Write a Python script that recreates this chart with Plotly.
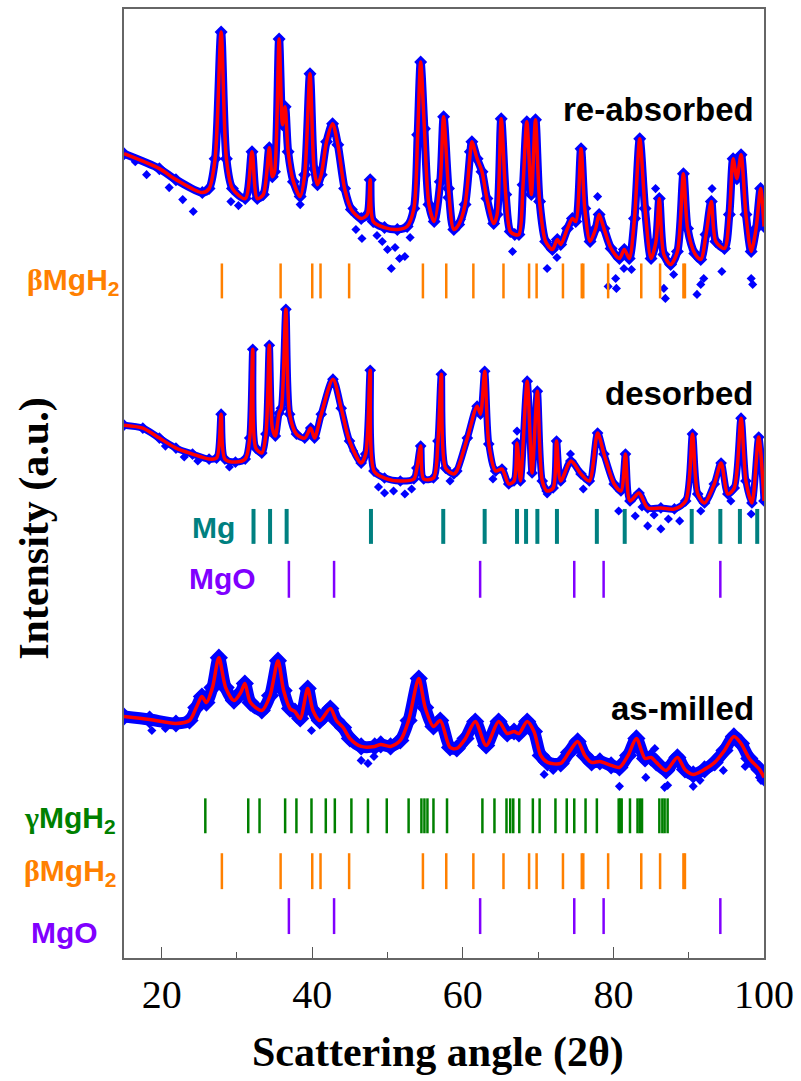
import plotly.graph_objects as go

# ---------------- data ----------------
# 2-theta positions and intensities (a.u.) of the fitted profile, plus vertical offsets
reabs_x = [15.0, 19.7, 21.9, 25.4, 26.3, 27.1, 27.9, 28.6, 29.4, 31.1, 32.0, 32.7, 33.5, 34.3, 34.7, 35.0,
           35.6, 36.05, 36.4, 36.8, 37.5, 38.4, 39.0, 39.7, 40.25, 40.7, 41.2, 41.9, 42.7, 43.4, 44.3, 45.2,
           46.5, 47.3, 47.7, 48.1, 49.6, 51.3, 52.6, 53.5, 54.0, 54.4, 54.9, 55.5, 56.2, 57.0, 57.45, 58.1,
           58.8, 59.45, 60.3, 61.0, 61.2, 61.9, 62.55, 63.2, 64.1, 64.55, 65.1, 65.7, 66.3, 66.9, 67.45,
           68.0, 68.5, 69.1, 69.65, 70.2, 71.0, 71.9, 72.55, 73.0, 73.9, 74.55, 75.0, 75.7, 76.2, 76.9,
           77.65, 78.1, 78.75, 79.7, 80.8, 81.45, 82.1, 82.8, 83.5, 84.2, 85.0, 85.65, 86.1, 86.7, 87.6,
           88.5, 89.3, 89.85, 90.8, 91.6, 92.3, 93.0, 93.6, 94.75, 95.4, 95.9, 96.4, 96.95, 97.6, 98.3,
           98.95, 99.55, 100.0]
reabs_y = [156, 141, 130, 117, 121, 151, 278, 151, 121, 111, 158, 111, 115, 162, 133, 138,
           271, 185, 203, 158, 128, 113, 135, 236, 141, 125, 135, 168, 186, 165, 121, 100,
           91, 95, 130, 88, 82, 80, 83, 101, 175, 248, 181, 105, 88, 128, 193, 121,
           80, 85, 105, 158, 168, 151, 138, 111, 86, 95, 191, 115, 78, 75, 75,
           125, 188, 115, 190, 108, 68, 60, 70, 65, 81, 91, 88, 161, 101, 68,
           81, 95, 81, 61, 51, 60, 51, 91, 171, 101, 51, 68, 111, 55, 45,
           58, 136, 81, 56, 50, 75, 108, 68, 61, 95, 151, 131, 155, 95, 58,
           81, 121, 83]
reabs_out_x = [16.5, 18.0, 21.0, 22.8, 24.2, 29.2, 30.2, 38.4, 45.8, 46.6, 48.6, 49.3, 50.0, 50.5, 51.0,
               51.6, 52.3, 53.0, 57.9, 59.8, 66.6, 71.2, 72.5, 77.9, 79.3, 80.3, 80.4, 81.4, 82.4,
               85.6, 86.7, 86.9, 88.0, 91.1, 91.6, 92.0, 93.1, 94.4, 98.3, 98.5]
reabs_out_y = [148, 135, 122, 110, 98, 108, 104, 105, 80, 71, 74, 68, 60, 41, 62,
               51, 53, 72, 112, 90, 58, 41, 52, 113, 23, 31, 21, 41, 40,
               121, 21, 11, 35, 15, 25, 31, 121, 38, 31, 25]
reabs_offset = 650

des_x = [15.0, 17.5, 19.7, 21.9, 24.1, 26.3, 27.3, 27.9, 28.4, 29.8, 31.1, 31.7, 32.1, 32.5, 33.3, 33.85,
         34.3, 34.7, 35.1, 35.6, 35.9, 36.5, 37.0, 37.9, 39.0, 39.8, 40.3, 41.2, 42.75, 43.85, 44.95,
         46.5, 47.1, 47.7, 48.2, 49.6, 51.7, 53.5, 53.9, 54.4, 54.8, 56.1, 56.7, 57.15, 57.7, 58.8,
         59.2, 60.6, 61.9, 62.35, 62.9, 63.45, 64.35, 65.2, 66.1, 66.8, 67.2, 67.65, 68.55, 69.2, 69.9,
         70.55, 71.2, 72.0, 72.45, 73.0, 74.35, 75.7, 76.8, 77.9, 78.75, 80.1, 81.0, 81.6, 82.2, 83.4,
         84.55, 86.3, 88.1, 89.6, 90.5, 91.2, 92.1, 93.4, 94.3, 95.2, 96.05, 96.95, 97.6, 98.4, 99.3,
         100.0]
des_y = [134, 131, 121, 111, 105, 100, 101, 145, 100, 97, 100, 121, 210, 111, 106, 125,
         214, 131, 123, 146, 151, 250, 145, 125, 121, 131, 121, 145, 180, 151, 118,
         96, 105, 189, 88, 81, 78, 80, 91, 113, 80, 81, 118, 185, 91, 85,
         88, 121, 153, 145, 188, 115, 88, 90, 75, 78, 116, 78, 178, 86, 168,
         78, 68, 71, 118, 78, 98, 85, 78, 126, 105, 75, 68, 105, 58, 66,
         51, 51, 50, 58, 125, 65, 56, 75, 96, 65, 71, 141, 78, 56, 122,
         58]
des_out_x = [20.5, 23.0, 24.8, 29.0, 45.5, 48.8, 49.6, 50.8, 52.3, 53.2, 58.3, 64.0, 67.2, 71.2, 74.3,
             76.0, 80.7, 82.9, 83.8, 84.55, 85.4, 86.3, 87.3, 88.8, 91.6, 95.6, 98.3]
des_out_y = [113, 102, 98, 92, 108, 72, 66, 68, 65, 70, 78, 80, 128, 65, 105,
             70, 48, 43, 52, 33, 44, 30, 40, 38, 48, 58, 45]
des_offset = 400

mill_x = [15.0, 18.4, 21.9, 23.7, 24.6, 25.35, 25.95, 26.75, 27.6, 28.5, 29.6, 30.5, 31.05, 31.8, 33.3,
          34.4, 35.45, 36.2, 37.05, 37.7, 38.4, 39.4, 40.1, 41.0, 42.4, 43.2, 44.1, 45.0, 46.5, 48.3,
          49.1, 50.4, 51.7, 52.8, 54.15, 55.0, 56.1, 57.0, 58.3, 59.2, 60.35, 61.65, 63.1, 64.75, 65.9,
          66.8, 67.45, 68.55, 69.45, 70.35, 71.25, 73.0, 74.1, 75.25, 76.2, 77.1, 78.2, 79.7, 80.8,
          81.95, 83.05, 84.2, 85.0, 85.7, 87.0, 88.5, 89.5, 90.6, 92.1, 93.45, 94.75, 96.0, 96.95,
          98.05, 99.4, 100.0]
mill_y = [82, 79, 75, 78, 91, 102, 96, 111, 141, 111, 98, 106, 115, 96, 88,
          103, 138, 108, 90, 87, 80, 110, 88, 78, 90, 78, 71, 60, 52, 52,
          54, 52, 58, 78, 120, 91, 72, 78, 51, 50, 60, 77, 53, 77, 65,
          67, 65, 77, 67, 43, 36, 35, 46, 57, 43, 36, 37, 33, 31,
          43, 60, 40, 41, 36, 28, 41, 29, 24, 29, 36, 48, 62, 55,
          40, 29, 21]
mill_out_x = [18.7, 20.5, 39.9, 46.5, 47.4, 48.2, 70.8, 72.0, 80.8, 84.3, 85.5, 86.8, 87.2, 90.6,
              91.5, 94.6, 97.5, 99.6]
mill_out_y = [68, 70, 68, 38, 35, 42, 24, 28, 12, 21, 50, 11, 13, 12,
              18, 28, 32, 18]
mill_offset = 160

# Bragg reflection positions (2-theta)
beta_mgh2 = [28.0, 35.8, 40.0, 41.1, 44.9, 54.7, 57.8, 61.4, 65.4, 68.8, 69.8, 73.3, 75.8, 76.0,
             79.3, 83.7, 86.2, 89.3, 89.5]
gamma_mgh2 = [25.8, 31.5, 33.0, 36.4, 37.9, 39.9, 41.8, 43.0, 45.2, 47.4, 49.9, 52.8, 54.5, 54.9,
              55.3, 56.1, 57.9, 62.6, 64.2, 65.8, 66.3, 66.7, 67.5, 69.3, 70.2, 72.3, 73.8, 74.8,
              76.3, 77.8, 80.7, 80.9, 81.1, 82.2, 83.2, 83.5, 83.8, 86.1, 86.5, 86.8, 87.2]
mg = [32.2, 34.4, 36.6, 47.8, 57.4, 62.9, 67.2, 68.4, 69.9, 72.5, 77.8, 81.5, 90.4, 94.2, 96.8, 99.1]
mgo = [36.9, 42.9, 62.3, 74.8, 78.7, 94.2]

x_ticks = [20, 40, 60, 80, 100]

# ---------------- styling ----------------
BLUE = "#0000FF"
RED = "#FF0000"
ORANGE = "#FF8000"
GREEN = "#008000"
TEAL = "#008080"
PURPLE = "#8000FF"
SERIF = "Liberation Serif"
SANS = "Liberation Sans"

fig = go.Figure()


def add_pattern(xs, ys, ox, oy, off, band):
    yy = [v + off for v in ys]
    fig.add_trace(go.Scatter(x=xs, y=yy, mode="lines+markers",
                             line=dict(color=BLUE, width=band, shape="spline", smoothing=0.8),
                             marker=dict(symbol="diamond", size=band + 2, color=BLUE),
                             hoverinfo="skip", showlegend=False))
    fig.add_trace(go.Scatter(x=ox, y=[v + off for v in oy], mode="markers",
                             marker=dict(symbol="diamond", size=7, color=BLUE),
                             hoverinfo="skip", showlegend=False))
    fig.add_trace(go.Scatter(x=xs, y=yy, mode="lines",
                             line=dict(color=RED, width=3.5, shape="spline", smoothing=0.8),
                             hoverinfo="skip", showlegend=False))


add_pattern(reabs_x, reabs_y, reabs_out_x, reabs_out_y, reabs_offset, 8)
add_pattern(des_x, des_y, des_out_x, des_out_y, des_offset, 7)
add_pattern(mill_x, mill_y, mill_out_x, mill_out_y, mill_offset, 12)


def add_ticks(pos, y0, y1, color, width):
    xs, ys = [], []
    for p in pos:
        xs += [p, p, None]
        ys += [y0, y1, None]
    fig.add_trace(go.Scatter(x=xs, y=ys, mode="lines", line=dict(color=color, width=width),
                             hoverinfo="skip", showlegend=False))


add_ticks(beta_mgh2, 661, 696, ORANGE, 2.5)
add_ticks(mg, 415, 450, TEAL, 4)
add_ticks(mgo, 361, 398, PURPLE, 2.5)
add_ticks(gamma_mgh2, 125, 160, GREEN, 2.5)
add_ticks(beta_mgh2, 69, 105, ORANGE, 2.5)
add_ticks(mgo, 24, 60, PURPLE, 2.5)

annotations = []


def label(text, x, y, color, size=30, xanchor="right", family=SANS, angle=0, xref="paper"):
    annotations.append(dict(text=text, x=x, y=y, xref=xref, yref="paper", xanchor=xanchor,
                            yanchor="middle", showarrow=False, textangle=angle,
                            font=dict(family=family, size=size, color=color)))


GK = '<span style="font-family:Liberation Serif">%s</span>'
label("<b>" + GK % "β" + "MgH<sub>2</sub></b>", -0.004, 0.713, ORANGE)
label("<b>Mg</b>", 0.1765, 0.4532, TEAL)
label("<b>MgO</b>", 0.209, 0.3996, PURPLE)
label("<b>" + GK % "γ" + "MgH<sub>2</sub></b>", -0.010, 0.146, GREEN)
label("<b>" + GK % "β" + "MgH<sub>2</sub></b>", -0.010, 0.090, ORANGE)
label("<b>MgO</b>", -0.037, 0.027, PURPLE)
label("<b>re-absorbed</b>", 0.988, 0.894, "black", size=33)
label("<b>desorbed</b>", 0.988, 0.595, "black", size=33)
label("<b>as-milled</b>", 0.988, 0.263, "black", size=33)
label("<b>Scattering angle (2θ)</b>", 0.4907, -0.100, "black", size=42, xanchor="center", family=SERIF)
label("<b>Intensity (a.u.)</b>", -0.141, 0.453, "black", size=42, xanchor="center", family=SERIF, angle=-90)

fig.update_layout(
    width=801, height=1081,
    margin=dict(l=124, r=31, t=7, b=123),
    paper_bgcolor="white", plot_bgcolor="white",
    annotations=annotations,
    xaxis=dict(range=[15, 100], tickvals=x_ticks, ticktext=[str(v) for v in x_ticks],
               ticks="inside", ticklen=11, tickwidth=1.2, tickcolor="#555555",
               minor=dict(tickvals=[30, 50, 70, 90], ticks="inside", ticklen=6, tickwidth=1.2,
                          tickcolor="#555555"),
               showline=True, linecolor="#666666", linewidth=1.5, mirror=True,
               showgrid=False, zeroline=False,
               tickfont=dict(family=SERIF, size=40, color="black")),
    yaxis=dict(range=[0, 951], showticklabels=False, ticks="", showline=True,
               linecolor="#666666", linewidth=1.5, mirror=True, showgrid=False, zeroline=False),
)

fig.write_html("out.html")
